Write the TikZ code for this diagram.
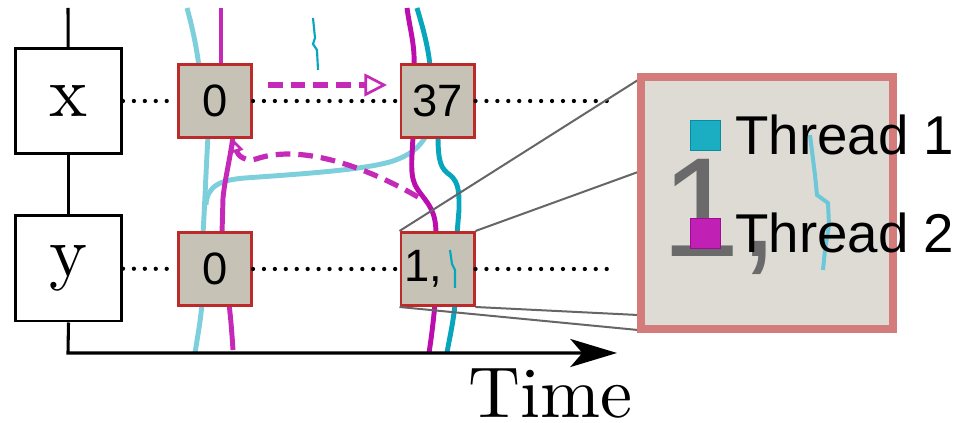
\documentclass[tikz,border=0pt]{standalone}
\usepackage{fontspec}
\newfontfamily\numfont{Liberation Sans}
\newfontfamily\labelfont{lmroman10-regular}[Extension=.otf]
\usetikzlibrary{arrows.meta}

\definecolor{cellfill}{HTML}{C6C2B6}
\definecolor{cellred}{HTML}{BC2A2A}
\definecolor{cyanlight}{HTML}{7DCFDC}
\definecolor{cyandark}{HTML}{07A6BD}
\definecolor{magmid}{HTML}{C42AB7}
\definecolor{magdark}{HTML}{BC0DAE}
\definecolor{zoomborder}{HTML}{D47B7B}
\definecolor{zoomfill}{HTML}{DEDBD4}
\definecolor{zoomgray}{HTML}{6A6A6A}
\definecolor{linkgray}{HTML}{666666}
\definecolor{tracelight}{HTML}{6CC8D8}

\tikzset{
  varbox/.style={draw=black, fill=white, line width=2.2pt, minimum width=79.5pt,
    minimum height=78.8pt, inner sep=0pt, font=\labelfont\fontsize{54}{60}\selectfont},
  cell/.style={draw=cellred, fill=cellfill, line width=2.2pt, minimum size=54.8pt,
    inner sep=0pt, font=\numfont\fontsize{34}{38}\selectfont},
  dotline/.style={line width=3.2pt, line cap=round, dash pattern=on 0pt off 8.2pt},
  thread/.style={line width=3.7pt},
  squiggle/.style={line width=1.6pt, cyandark},
  wait/.style={magmid, line width=3.9pt, dash pattern=on 11pt off 6pt},
  linkline/.style={linkgray, line width=1.5pt},
  axis/.style={line width=2.3pt},
  keybox/.style={line width=0.8pt, minimum size=23pt, inner sep=0pt},
  keytext/.style={anchor=base west, inner sep=0pt, font=\numfont\fontsize{41}{48}\selectfont},
}

\begin{document}
\begin{tikzpicture}[x=0.75pt, y=-0.75pt]
\useasboundingbox (0,0) rectangle (957,423);

% ---- thread 1 (light) ----
\draw[thread, cyanlight] (187,8) .. controls (193,30) and (196,45) .. (199,66);
\draw[thread, cyanlight] (208,136) .. controls (206,170) and (205,200) .. (203,234);
\draw[thread, cyanlight] (206,205) .. controls (207,186) and (220,180) .. (245,178)
  .. controls (300,174) and (365,170) .. (393,161) .. controls (410,155) and (419,148) .. (426,136);
\draw[thread, cyanlight] (202,304) .. controls (200,325) and (197,340) .. (195,353);
% ---- thread 2 (left) ----
\draw[thread, magmid] (221,8) -- (221,66);
\draw[thread, magmid] (233,136) .. controls (230,160) and (225,178) .. (223,198) -- (222,234);
\draw[thread, magmid] (229,304) .. controls (231,320) and (232,335) .. (233,350);
% ---- thread 2 (right) ----
\draw[thread, magdark] (407,8) .. controls (410,30) and (415,45) .. (414,66);
\draw[thread, magdark] (413,136) .. controls (412,160) and (409,178) .. (418,190)
  .. controls (428,204) and (436,210) .. (436,234);
\draw[thread, magdark] (435,304) .. controls (433,325) and (431,340) .. (429,353);
% ---- thread 1 (right) ----
\draw[thread, cyandark] (417,8) .. controls (422,25) and (428,45) .. (430,66);
\draw[thread, cyandark] (438,136) .. controls (438,162) and (441,169) .. (450,175)
  .. controls (460,183) and (459,196) .. (459,210) -- (457,234);
\draw[thread, cyandark] (455,304) .. controls (453,325) and (449,340) .. (447,353);

% ---- small traces ----
\draw[squiggle] (313,18) -- (315,38) -- (313,44) -- (317,50) -- (318,70);

% ---- time axis and variables ----
\coordinate (top) at (68,8);
\coordinate (t0) at (68,353);
\coordinate (tend) at (617,353);
\node[varbox] (vx) at (68.5,101) {x};
\node[varbox] (vy) at (68.5,268.5) {y};
\draw[axis] (top) -- (vx);
\draw[axis] (vx) -- (vy);
\draw[axis, -{Stealth[length=35pt, width=21pt, inset=9pt]}] (vy.south) -- (t0) -- (tend);
\node[font=\labelfont\fontsize{54}{60}\selectfont, anchor=base, inner sep=0pt] (time) at (550,418) {Time};

% ---- memory cells ----
\node[cell] (x0) at (215,101) {0};
\node[cell] (x37) at (437.5,101) {37};
\node[cell] (y0) at (215,269) {0};
\node[cell] (y1) at (437.5,269) {1,\kern21pt};
\draw[squiggle] (450,250) -- (452,264) -- (455,270) -- (455,288);

\coordinate (xend) at (614,101);
\coordinate (yend) at (614,269);
\draw[dotline] (vx) -- (x0);
\draw[dotline] (x0) -- (x37);
\draw[dotline] (x37) -- (xend);
\draw[dotline] (vy) -- (y0);
\draw[dotline] (y0) -- (y1);
\draw[dotline] (y1) -- (yend);

% ---- ordering arrows ----
\coordinate (wa) at (268,85);
\coordinate (wb) at (387,85);
\draw[wait, -{Triangle[open, length=17pt, width=17pt, line width=2pt, sep=0pt]}] (wa) -- (wb);
\coordinate (rs) at (418,197);
\draw[wait, -{Triangle[open, length=10pt, width=10pt, line width=2pt]}] (rs)
  .. controls (375,172) and (305,142) .. (256,159)
  .. controls (246,162) and (238,156) .. (x0.south -| 233,0);

% ---- magnified view ----
\coordinate (z1) at (638,80);
\coordinate (z2) at (638,172);
\coordinate (z3) at (638,315);
\coordinate (z4) at (638,330);
\draw[linkline] (y1.north west) -- (z1);
\draw[linkline] (y1.north east) -- (z2);
\draw[linkline] (y1.south east) -- (z3);
\draw[linkline] (y1.south west) -- (z4);

\node[draw=zoomborder, fill=zoomfill, line width=6pt, minimum width=189pt,
  minimum height=189pt, inner sep=0pt] (zoom) at (767,203) {};
\node[anchor=base west, inner sep=0pt, text=zoomgray,
  font=\numfont\fontsize{106}{120}\selectfont] (big) at (661,257) {1,};
\draw[line width=3pt, tracelight] (810,135) -- (815,175) -- (817,195)
  -- (828,203) -- (829,225) -- (825,250) -- (823,270);

\node[keybox, fill=cyandark!92, draw=cyandark!85!black] (k1) at (705.5,135.5) {};
\node[keybox, fill=magdark!92, draw=magdark!85!black] (k2) at (705.5,233.5) {};
\node[keytext] (l1) at (735,155) {Thread 1};
\node[keytext] (l2) at (735,253) {Thread 2};
\end{tikzpicture}
\end{document}
